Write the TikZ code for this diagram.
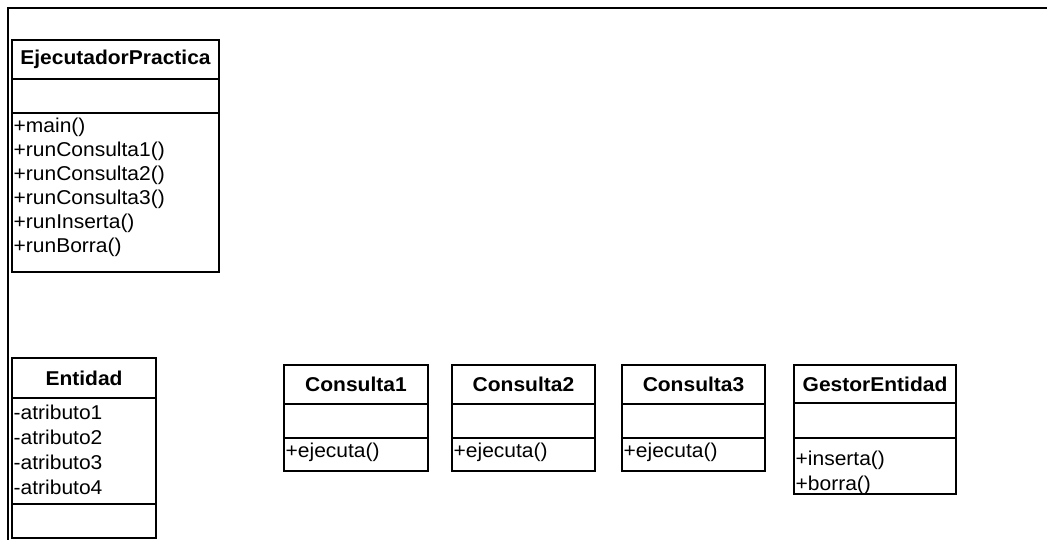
\documentclass[tikz,border=0pt]{standalone}
\usepackage{fontspec}
\setmainfont[FakeStretch=1.05]{Liberation Sans}
\begin{document}
\begin{tikzpicture}[x=1pt,y=-1pt,
  comp/.style={draw=black, line width=1.3pt, anchor=north west, inner sep=0pt, outer sep=0pt},
  ttl/.style={font=\fontsize{20}{22}\selectfont\bfseries},
  txt/.style={anchor=west, inner sep=0pt, font=\fontsize{20}{22}\selectfont},
  frame/.style={draw=black, line width=2pt}]
\useasboundingbox (0,0) rectangle (1047,540);
\draw[frame] (8,541) -- (8,8) -- (1048,8);

% EjecutadorPractica
\node[comp, ttl, minimum width=207pt, minimum height=39pt] (ept) at (12,40) {EjecutadorPractica};
\node[comp, minimum width=207pt, minimum height=34pt] (epa) at (12,79) {};
\node[comp, minimum width=207pt, minimum height=159pt] (epm) at (12,113) {};
\node[txt] (ep1) at (13.5,127) {+main()};
\node[txt] (ep2) at (13.5,151) {+runConsulta1()};
\node[txt] (ep3) at (13.5,175) {+runConsulta2()};
\node[txt] (ep4) at (13.5,199) {+runConsulta3()};
\node[txt] (ep5) at (13.5,223) {+runInserta()};
\node[txt] (ep6) at (13.5,247) {+runBorra()};

% Entidad
\node[comp, ttl, minimum width=144pt, minimum height=40pt] (ent) at (12,358) {Entidad};
\node[comp, minimum width=144pt, minimum height=106pt] (ena) at (12,398) {};
\node[comp, minimum width=144pt, minimum height=34pt] (enm) at (12,504) {};
\node[txt] (en1) at (13.5,412) {-atributo1};
\node[txt] (en2) at (13.5,437) {-atributo2};
\node[txt] (en3) at (13.5,462) {-atributo3};
\node[txt] (en4) at (13.5,487) {-atributo4};

% Consulta1
\node[comp, ttl, minimum width=144pt, minimum height=39pt] (c1t) at (284,365) {Consulta1};
\node[comp, minimum width=144pt, minimum height=34pt] (c1a) at (284,404) {};
\node[comp, minimum width=144pt, minimum height=33pt] (c1m) at (284,438) {};
\node[txt] (c1x) at (285.5,452) {+ejecuta()};

% Consulta2
\node[comp, ttl, minimum width=143pt, minimum height=39pt] (c2t) at (452,365) {Consulta2};
\node[comp, minimum width=143pt, minimum height=34pt] (c2a) at (452,404) {};
\node[comp, minimum width=143pt, minimum height=33pt] (c2m) at (452,438) {};
\node[txt] (c2x) at (453.5,452) {+ejecuta()};

% Consulta3
\node[comp, ttl, minimum width=143pt, minimum height=39pt] (c3t) at (622,365) {Consulta3};
\node[comp, minimum width=143pt, minimum height=34pt] (c3a) at (622,404) {};
\node[comp, minimum width=143pt, minimum height=33pt] (c3m) at (622,438) {};
\node[txt] (c3x) at (623.5,452) {+ejecuta()};

% GestorEntidad
\node[comp, ttl, minimum width=162pt, minimum height=38pt] (get) at (794,365) {GestorEntidad};
\node[comp, minimum width=162pt, minimum height=35pt] (gea) at (794,403) {};
\node[comp, minimum width=162pt, minimum height=56pt] (gem) at (794,438) {};
\node[txt] (ge1) at (795.5,460) {+inserta()};
\node[txt] (ge2) at (795.5,485) {+borra()};
\end{tikzpicture}
\end{document}
